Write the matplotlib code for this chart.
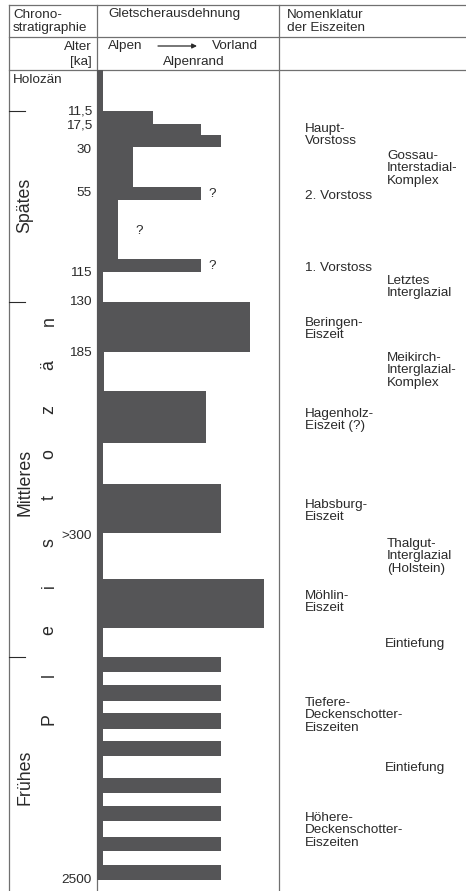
import matplotlib.pyplot as plt
import numpy as np

plt.rcParams['font.family'] = ['Liberation Sans', 'DejaVu Sans']

# glacier profile: row boundaries (schematic vertical position, top to bottom)
# and glacier extent in % of the way from the Alps (0) to the foreland (100)
profile_edges = [70, 111, 124, 135, 147, 187, 200, 259, 272, 302, 352, 391, 443,
                 484, 533, 579, 628, 657, 672, 685, 701, 713, 729, 741, 756,
                 778, 793, 806, 821, 837, 851, 865, 880]
profile_extent = [3.3, 31, 57, 68, 20, 57, 11.5, 57, 3.3, 84, 3.6, 60, 3.3,
                  68, 3.3, 92, 3.3, 68, 3.3, 68, 3.3, 68, 3.3, 68, 3.3, 68,
                  3.3, 68, 3.3, 68, 3.3, 68]

age_labels = ['11,5', '17,5', '30', '55', '115', '130', '185', '>300', '2500']
age_pos = [111, 126, 150, 193, 273, 302, 353, 536, 880]

epoch_names = ['Spätes', 'Mittleres', 'Frühes']
epoch_pos = [205, 482, 777]
epoch_bounds = [111, 302, 657]

period_letters = list('Pleistozän')
period_top, period_bottom = 321, 719

unsure_marks = [(61, 194), (21, 231), (61, 266)]

names = [
    ('Haupt-\nVorstoss', 305, 128),
    ('Gossau-\nInterstadial-\nKomplex', 387, 155),
    ('2. Vorstoss', 305, 195),
    ('1. Vorstoss', 305, 267),
    ('Letztes\nInterglazial', 387, 280),
    ('Beringen-\nEiszeit', 305, 322),
    ('Meikirch-\nInterglazial-\nKomplex', 387, 357),
    ('Hagenholz-\nEiszeit (?)', 305, 413),
    ('Habsburg-\nEiszeit', 305, 504),
    ('Thalgut-\nInterglazial\n(Holstein)', 387, 543),
    ('Möhlin-\nEiszeit', 305, 595),
    ('Eintiefung', 385, 643),
    ('Tiefere-\nDeckenschotter-\nEiszeiten', 305, 702),
    ('Eintiefung', 385, 767),
    ('Höhere-\nDeckenschotter-\nEiszeiten', 305, 817),
]

W, H = 466, 891
col0, col1, col2 = 9, 97, 279
txt = '#2a2a2a'
rule = '#707070'
bar_color = '#555557'
fs = 9.7
fs_big = 12.8

fig = plt.figure(figsize=(W / 100, H / 100), dpi=100)
ax = fig.add_axes([0, 0, 1, 1])
ax.set_xlim(0, W)
ax.set_ylim(H, 0)
ax.axis('off')

# table rules
for x in (col0, col1, col2):
    ax.plot([x, x], [5, H], color=rule, lw=0.9)
for y in (5, 37, 70):
    ax.plot([col0, W], [y, y], color=rule, lw=0.9)

# header
ax.text(13, 8.5, 'Chrono-\nstratigraphie', fontsize=fs, color=txt, va='top', linespacing=1.15)
ax.text(108, 8.5, 'Gletscherausdehnung', fontsize=fs, color=txt, va='top')
ax.text(287, 8.5, 'Nomenklatur\nder Eiszeiten', fontsize=fs, color=txt, va='top', linespacing=1.15)
ax.text(92, 47, 'Alter', fontsize=fs, color=txt, ha='right', va='center')
ax.text(92, 62, '[ka]', fontsize=fs, color=txt, ha='right', va='center')
ax.text(108, 46, 'Alpen', fontsize=fs, color=txt, va='center')
ax.annotate('', xy=(197, 46), xytext=(158, 46),
            arrowprops=dict(arrowstyle='-|>', color=txt, lw=0.9,
                            mutation_scale=7, shrinkA=0, shrinkB=0))
ax.text(258, 46, 'Vorland', fontsize=fs, color=txt, ha='right', va='center')
ax.text(194, 62, 'Alpenrand', fontsize=fs, color=txt, ha='center', va='center')
ax.text(13, 80, 'Holozän', fontsize=fs, color=txt, va='center')

# ages and stratigraphy
for lab, y in zip(age_labels, age_pos):
    ax.text(92, y, lab, fontsize=fs, color=txt, ha='right', va='center')
for y in epoch_bounds:
    ax.plot([col0, 25], [y, y], color=txt, lw=0.8)
for lab, y in zip(epoch_names, epoch_pos):
    ax.text(25, y, lab, fontsize=fs_big, color=txt, rotation=90, ha='center', va='center')
letter_pos = np.linspace(period_bottom, period_top, len(period_letters))
for ch, y in zip(period_letters, letter_pos):
    ax.text(49, y, ch, fontsize=fs_big, color=txt, rotation=90, ha='center', va='center')

# names of the glaciations
for lab, x, y in names:
    ax.text(x, y - 5, lab, fontsize=fs, color=txt, va='top', linespacing=1.05)

# glacier extent column
axb = fig.add_axes([col1 / W, 0, (col2 - col1) / W, 1 - profile_edges[0] / H])
axb.set_xlim(0, 100)
axb.set_ylim(H, profile_edges[0])
axb.axis('off')
axb.fill_betweenx(profile_edges, 0, profile_extent + [profile_extent[-1]],
                  step='post', color=bar_color, lw=0)
for ext, y in unsure_marks:
    axb.text(ext, y, '?', fontsize=fs, color=txt, va='center')

fig.savefig('out.png', dpi=100)
